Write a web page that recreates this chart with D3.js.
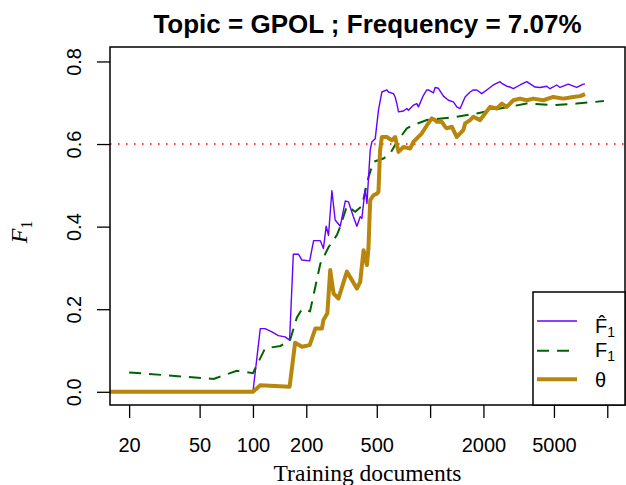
<!DOCTYPE html>
<html>
<head>
<meta charset="utf-8">
<script src="https://cdn.jsdelivr.net/npm/d3@7"></script>
<style>
  html, body { margin: 0; padding: 0; background: #fff; }
  svg { display: block; }
</style>
</head>
<body>
<svg></svg>
<script>
'use strict';

// x ticks of the log axis (R dropped the 1000 and 10000 labels)
var xTicks = [20, 50, 100, 200, 500, 1000, 2000, 5000, 10000];
var xTickLabels = ['20', '50', '100', '200', '500', '', '2000', '5000', ''];
var yTicks = [0, 0.2, 0.4, 0.6, 0.8];

// F-hat (estimated F1), purple
var fhatDocs = [10, 100, 110, 117, 128, 139, 152, 161, 169, 181, 189, 209, 220, 240, 250, 259, 267, 279, 291, 311, 332, 346, 369, 386, 403, 412, 430, 440, 459, 469, 490, 511, 534, 570, 582, 621, 635, 649, 663, 707, 739, 754, 805, 841, 859, 917, 958, 978, 1044, 1067, 1114, 1189, 1269, 1353, 1415, 1477, 1576, 1611, 1681, 1755, 1834, 1957, 2132, 2275, 2482, 2538, 2708, 2827, 2950, 3218, 3511, 3911, 4173, 4552, 4751, 5183, 5410, 6026, 6721, 7322, 7485];
var fhatVals = [0, 0, 0.153, 0.153, 0.145, 0.136, 0.133, 0.125, 0.333, 0.333, 0.319, 0.317, 0.366, 0.366, 0.347, 0.401, 0.379, 0.487, 0.416, 0.401, 0.462, 0.46, 0.424, 0.401, 0.424, 0.42, 0.492, 0.456, 0.585, 0.605, 0.613, 0.682, 0.726, 0.731, 0.726, 0.722, 0.714, 0.698, 0.678, 0.68, 0.686, 0.682, 0.694, 0.698, 0.69, 0.718, 0.731, 0.731, 0.724, 0.737, 0.735, 0.716, 0.706, 0.702, 0.69, 0.686, 0.714, 0.718, 0.726, 0.731, 0.731, 0.722, 0.734, 0.743, 0.751, 0.747, 0.74, 0.738, 0.734, 0.743, 0.751, 0.738, 0.737, 0.74, 0.734, 0.743, 0.737, 0.745, 0.737, 0.745, 0.745];

// F1 (true), dark green dashed
var f1Docs = [20, 60, 81, 100, 117, 143, 162, 177, 189, 210, 240, 267, 298, 311, 339, 378, 412, 449, 479, 545, 595, 649, 739, 806, 958, 1415, 1834, 2483, 3510, 4960, 6716, 9570];
var f1Vals = [0.047, 0.031, 0.051, 0.045, 0.105, 0.111, 0.125, 0.18, 0.2, 0.195, 0.31, 0.35, 0.38, 0.4, 0.45, 0.436, 0.45, 0.52, 0.557, 0.565, 0.577, 0.605, 0.638, 0.646, 0.658, 0.666, 0.674, 0.686, 0.698, 0.694, 0.698, 0.704];

// theta, goldenrod thick
var thetaDocs = [10, 100, 110, 161, 173, 189, 209, 225, 245, 250, 263, 273, 285, 304, 339, 386, 403, 421, 440, 449, 459, 479, 501, 511, 522, 534, 570, 608, 635, 663, 707, 771, 805, 898, 958, 1022, 1067, 1091, 1164, 1215, 1243, 1326, 1415, 1477, 1541, 1576, 1681, 1755, 1914, 2043, 2180, 2378, 2538, 2708, 2950, 3218, 3511, 3825, 4355, 4959, 5647, 6430, 7015, 7485];
var thetaVals = [0, 0, 0.016, 0.012, 0.119, 0.109, 0.113, 0.153, 0.153, 0.174, 0.19, 0.295, 0.238, 0.226, 0.291, 0.25, 0.266, 0.343, 0.307, 0.35, 0.464, 0.476, 0.48, 0.484, 0.585, 0.617, 0.617, 0.609, 0.617, 0.581, 0.593, 0.589, 0.605, 0.626, 0.645, 0.662, 0.658, 0.654, 0.654, 0.642, 0.638, 0.642, 0.617, 0.626, 0.634, 0.65, 0.658, 0.666, 0.658, 0.674, 0.69, 0.686, 0.698, 0.69, 0.706, 0.71, 0.706, 0.71, 0.706, 0.714, 0.71, 0.714, 0.716, 0.721];

var threshold = 0.6;

function render() {
    var d3 = window.d3;
    var w = 626;
    var h = 485;
    var left = 110, right = 625, top = 47, bottom = 405;

    var svg = d3.select('svg').attr('width', w).attr('height', h);

    var x = d3.scaleLog().domain([15.6, 12590]).range([left, right]);
    var y = d3.scaleLinear().domain([-0.032, 0.835]).range([bottom, top]);

    svg.append('defs').append('clipPath').attr('id', 'plotclip')
        .append('rect').attr('x', left).attr('y', top)
        .attr('width', right - left).attr('height', bottom - top);

    // title
    svg.append('text')
        .attr('x', (left + right) / 2).attr('y', 33)
        .attr('text-anchor', 'middle')
        .style('font', 'bold 26px "Liberation Sans", Arial, sans-serif')
        .text('Topic = GPOL ; Frequency = 7.07%');

    // x axis
    var xAxis = svg.append('g').attr('transform', 'translate(0,' + bottom + ')')
        .call(d3.axisBottom(x).tickValues(xTicks)
            .tickFormat(function (d, i) { return xTickLabels[i]; })
            .tickSize(13).tickSizeOuter(0));
    xAxis.select('.domain').remove();
    xAxis.selectAll('line').attr('stroke', '#000').attr('stroke-width', 1.3);
    xAxis.selectAll('text').attr('y', 47).attr('dy', null)
        .style('font', '20px "Liberation Sans", Arial, sans-serif').attr('fill', '#000');

    // y axis, labels turned like R does
    var yAxis = svg.append('g').attr('transform', 'translate(' + left + ',0)')
        .call(d3.axisLeft(y).tickValues(yTicks).tickFormat(d3.format('.1f'))
            .tickSize(13).tickSizeOuter(0));
    yAxis.select('.domain').remove();
    yAxis.selectAll('line').attr('stroke', '#000').attr('stroke-width', 1.3);
    yAxis.selectAll('text').attr('x', null).attr('dy', null)
        .attr('text-anchor', 'middle')
        .attr('transform', 'translate(-29,0) rotate(-90)')
        .style('font', '20px "Liberation Sans", Arial, sans-serif').attr('fill', '#000');

    // axis titles
    svg.append('text')
        .attr('x', (left + right) / 2).attr('y', 481)
        .attr('text-anchor', 'middle')
        .style('font', '23.5px "Liberation Serif", "Times New Roman", serif')
        .text('Training documents');

    var ylab = svg.append('text')
        .attr('transform', 'translate(27,232) rotate(-90)')
        .attr('text-anchor', 'middle')
        .style('font', 'italic 24px "Liberation Serif", "Times New Roman", serif');
    ylab.append('tspan').text('F');
    ylab.append('tspan').attr('dy', 5).style('font-style', 'normal').style('font-size', '16px').text('1');

    var g = svg.append('g').attr('clip-path', 'url(#plotclip)');

    // threshold line
    g.append('line')
        .attr('x1', left).attr('x2', right)
        .attr('y1', y(threshold)).attr('y2', y(threshold))
        .attr('stroke', 'red').attr('stroke-width', 1.5)
        .attr('stroke-dasharray', '1.5,6.5');

    var line = d3.line()
        .x(function (d) { return x(d[0]); })
        .y(function (d) { return y(d[1]); });

    var f1 = d3.zip(f1Docs, f1Vals);
    var fhat = d3.zip(fhatDocs, fhatVals);
    var theta = d3.zip(thetaDocs, thetaVals);

    g.append('path').datum(f1).attr('d', line)
        .attr('fill', 'none').attr('stroke', '#006400').attr('stroke-width', 2)
        .attr('stroke-dasharray', '12,8');

    g.append('path').datum(fhat).attr('d', line)
        .attr('fill', 'none').attr('stroke', '#6600ff').attr('stroke-width', 1.4)
        .attr('stroke-linejoin', 'round');

    g.append('path').datum(theta).attr('d', line)
        .attr('fill', 'none').attr('stroke', '#b8860b').attr('stroke-width', 4)
        .attr('stroke-linejoin', 'round');

    // plot box
    svg.append('rect')
        .attr('x', left).attr('y', top)
        .attr('width', right - left).attr('height', bottom - top)
        .attr('fill', 'none').attr('stroke', '#000').attr('stroke-width', 1.5);

    // legend
    var lg = svg.append('g');
    lg.append('rect')
        .attr('x', 533).attr('y', 292)
        .attr('width', right - 533).attr('height', bottom - 292)
        .attr('fill', '#fff').attr('stroke', '#000').attr('stroke-width', 1.5);

    var rows = [321, 350.7, 379.3];
    lg.append('line').attr('x1', 537).attr('x2', 577).attr('y1', rows[0]).attr('y2', rows[0])
        .attr('stroke', '#6600ff').attr('stroke-width', 1.4);
    lg.append('line').attr('x1', 537).attr('x2', 577).attr('y1', rows[1]).attr('y2', rows[1])
        .attr('stroke', '#006400').attr('stroke-width', 2).attr('stroke-dasharray', '12,8');
    lg.append('line').attr('x1', 537).attr('x2', 577).attr('y1', rows[2]).attr('y2', rows[2])
        .attr('stroke', '#b8860b').attr('stroke-width', 4);

    var lfont = '20px "Liberation Sans", Arial, sans-serif';
    // F with a combining circumflex, so the hat is part of the same text
    var t1 = lg.append('text').attr('x', 595).attr('y', rows[0] + 12).style('font', lfont);
    t1.append('tspan').text('F\u0302');
    t1.append('tspan').attr('dy', 4).style('font-size', '14px').text('1');

    var t2 = lg.append('text').attr('x', 595).attr('y', rows[1] + 6.5).style('font', lfont);
    t2.append('tspan').text('F');
    t2.append('tspan').attr('dy', 4).style('font-size', '14px').text('1');

    lg.append('text').attr('x', 595).attr('y', rows[2] + 7.5).style('font', lfont).text('θ');
}

render();
</script>
</body>
</html>
